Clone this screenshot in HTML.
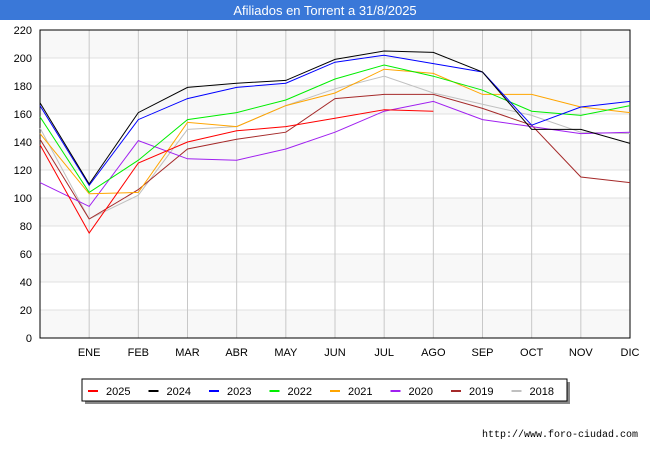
<!DOCTYPE html>
<html><head><meta charset="utf-8"><style>
body{margin:0;background:#fff;font-family:"Liberation Sans",sans-serif}
</style></head><body>
<svg id="chart" width="650" height="450" xmlns="http://www.w3.org/2000/svg">
<rect x="0" y="0" width="650" height="20" fill="#3a78d8"/>
<text x="325" y="15" font-size="13" fill="#fff" text-anchor="middle" font-family="Liberation Sans">Afiliados en Torrent a 31/8/2025</text>
<g id="grid"></g><g id="series"></g><g id="legend"></g>
<text x="638" y="437" font-size="10" text-anchor="end" font-family="Liberation Mono">http://www.foro-ciudad.com</text>
</svg>
<script>
const months=["","ENE","FEB","MAR","ABR","MAY","JUN","JUL","AGO","SEP","OCT","NOV","DIC"];
const yTicks=[0,20,40,60,80,100,120,140,160,180,200,220];
const seriesNames=["2025","2024","2023","2022","2021","2020","2019","2018"];
const seriesColors=["#ff0000","#000000","#0000ff","#00ee00","#ffa500","#a020f0","#a52a2a","#c0c0c0"];
const s2025=[138,75,125,140,148,151,157,163,162];
const s2024=[168,110,161,179,182,184,199,205,204,190,149,149,139];
const s2023=[166,109,156,171,179,182,197,202,196,190,152,165,169];
const s2022=[158,104,127,156,161,170,185,195,187,177,162,159,166];
const s2021=[146,103,104,154,151,166,175,192,189,174,174,165,161];
const s2020=[111,94,141,128,127,135,147,162,169,156,151,146,147];
const s2019=[142,85,106,135,142,147,171,174,174,164,152,115,111];
const s2018=[150,85,102,149,151,166,178,187,175,167,159,147,146];
const allSeries=[s2025,s2024,s2023,s2022,s2021,s2020,s2019,s2018];
const L=40,R=630,T=30,B=338,maxV=220;
const xs=i=>L+i*(R-L)/12, ys=v=>B-v*(B-T)/maxV;
const NS="http://www.w3.org/2000/svg";
function mk(tag,attrs,parent){const e=document.createElementNS(NS,tag);for(const k in attrs)e.setAttribute(k,attrs[k]);parent.appendChild(e);return e;}
const g=document.getElementById('grid');
for(let i=0;i<yTicks.length-1;i++){
  const band=mk('rect',{x:L,y:ys(yTicks[i+1]),width:R-L,height:ys(yTicks[i])-ys(yTicks[i+1]),fill:i%2?"#ffffff":"#f8f8f8"},g);
  
  
}
yTicks.forEach(v=>{
  const l=mk('line',{x1:L,x2:R,y1:ys(v),y2:ys(v),stroke:"#e0e0e0"},g);
  
  
  const t=mk('text',{x:L-8,y:ys(v)+4,"font-size":11,"text-anchor":"end"},g);t.textContent=v;
  
  
});
months.forEach((m,i)=>{
  if(i>0){const l=mk('line',{x1:xs(i),x2:xs(i),y1:T,y2:B,stroke:"#c8c8c8"},g);
  
  }
  const t=mk('text',{x:xs(i),y:B+18,"font-size":11,"text-anchor":"middle"},g);t.textContent=m;
  
  
});
const fr=mk('rect',{x:L,y:T,width:R-L,height:B-T,fill:"none",stroke:"#000"},g);


const sg=document.getElementById('series');
for(let k=allSeries.length-1;k>=0;k--){
  const pts=allSeries[k].map((v,i)=>xs(i)+","+ys(v)).join(" ");
  const p=mk('polyline',{points:pts,fill:"none",stroke:seriesColors[k],"stroke-width":1},sg);
  
  
}
const lg=document.getElementById('legend');
mk('rect',{x:85,y:382,width:485,height:22,fill:"#888"},lg);
const box=mk('rect',{x:82,y:379,width:485,height:22,fill:"#fff",stroke:"#000"},lg);


seriesNames.forEach((n,k)=>{
  const x=88+k*60.5;
  const l=mk('line',{x1:x,x2:x+10,y1:391,y2:391,stroke:seriesColors[k],"stroke-width":2},lg);
  
  
  const t=mk('text',{x:x+18,y:395,"font-size":11},lg);t.textContent=n;
  
  
});
</script>
</body></html>
